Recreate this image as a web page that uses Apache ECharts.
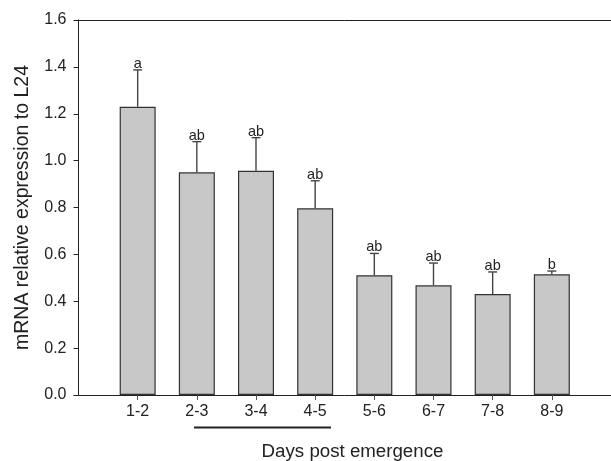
<!DOCTYPE html>
<html>
<head>
<meta charset="utf-8">
<script src="https://cdn.jsdelivr.net/npm/echarts@6/dist/echarts.min.js"></script>
<style>html,body{margin:0;padding:0;background:#fff;}#c{width:611px;height:461px;}</style>
</head>
<body>
<div id="c"></div>
<script>
var categories = ['1-2','2-3','3-4','4-5','5-6','6-7','7-8','8-9'];
var means = [1.23, 0.95, 0.957, 0.797, 0.511, 0.468, 0.431, 0.515];
var errors = [0.157, 0.131, 0.141, 0.117, 0.093, 0.095, 0.094, 0.014];
var letters = ['a','ab','ab','ab','ab','ab','ab','b'];
var yTicks = [0, 0.2, 0.4, 0.6, 0.8, 1.0, 1.2, 1.4, 1.6];

var FONT = 'Liberation Sans, Arial, sans-serif';
var positions = categories.map(function(c, i){ return i + 1; });
var barData = means.map(function(m, i){ return [positions[i], m]; });
var errData = means.map(function(m, i){ return [positions[i], m, m + errors[i], i]; });

var chart = echarts.init(document.getElementById('c'), null, {renderer: 'canvas'});
chart.setOption({
  animation: false,
  backgroundColor: '#fff',
  grid: {left: 78.5, right: 0, top: 20, bottom: 66, containLabel: false},
  xAxis: [{
    type: 'value', min: 0, max: 9, interval: 1, position: 'bottom',
    axisLine: {lineStyle: {color: '#222', width: 1}},
    axisTick: {show: true, length: 5, customValues: positions, lineStyle: {color: '#555', width: 1}},
    axisLabel: {customValues: positions, margin: 9, color: '#222', fontSize: 16, fontFamily: FONT,
      formatter: function(v){ return categories[Math.round(v) - 1] || ''; }},
    splitLine: {show: false}
  }, {
    type: 'value', min: 0, max: 9, position: 'top',
    axisLine: {show: true, lineStyle: {color: '#222', width: 1}},
    axisTick: {show: false}, axisLabel: {show: false}, splitLine: {show: false}
  }],
  yAxis: {
    type: 'value', min: 0, max: 1.6, interval: 0.2,
    axisLine: {show: true, lineStyle: {color: '#222', width: 1}},
    axisTick: {show: true, length: 5, lineStyle: {color: '#222', width: 1}},
    axisLabel: {margin: 12, color: '#222', fontSize: 16, fontFamily: FONT,
      formatter: function(v){ return v.toFixed(1); }},
    splitLine: {show: false},
    name: 'mRNA relative expression to L24',
    nameLocation: 'middle', nameRotate: 90, nameGap: 46,
    nameTextStyle: {color: '#222', fontSize: 19.5, fontFamily: FONT}
  },
  series: [{
    type: 'bar', xAxisIndex: 0, data: barData, barWidth: 36,
    itemStyle: {color: '#c8c8c8', borderColor: '#333', borderWidth: 1.2},
    z: 2
  }, {
    type: 'custom', xAxisIndex: 0, data: errData, z: 3,
    renderItem: function(params, api){
      var x = api.value(0);
      var base = api.coord([x, api.value(1)]);
      var top = api.coord([x, api.value(2)]);
      var idx = api.value(3);
      var hw = 4.5;
      return {type: 'group', children: [
        {type: 'line', shape: {x1: base[0], y1: base[1], x2: top[0], y2: top[1]}, style: {stroke: '#444', lineWidth: 1.4}},
        {type: 'line', shape: {x1: top[0]-hw, y1: top[1], x2: top[0]+hw, y2: top[1]}, style: {stroke: '#444', lineWidth: 1.4}},
        {type: 'text', x: top[0], y: top[1] + 1.5, style: {text: letters[idx], fill: '#222', font: '14.5px ' + FONT, align: 'center', verticalAlign: 'bottom'}}
      ]};
    }
  }],
  graphic: [
    {type: 'line', shape: {x1: 194, y1: 427.5, x2: 331, y2: 427.5}, style: {stroke: '#222', lineWidth: 2}},
    {type: 'text', x: 352.5, y: 451.5, style: {text: 'Days post emergence', fill: '#222', font: '18.7px ' + FONT, align: 'center', verticalAlign: 'middle'}}
  ]
});
</script>
</body>
</html>
